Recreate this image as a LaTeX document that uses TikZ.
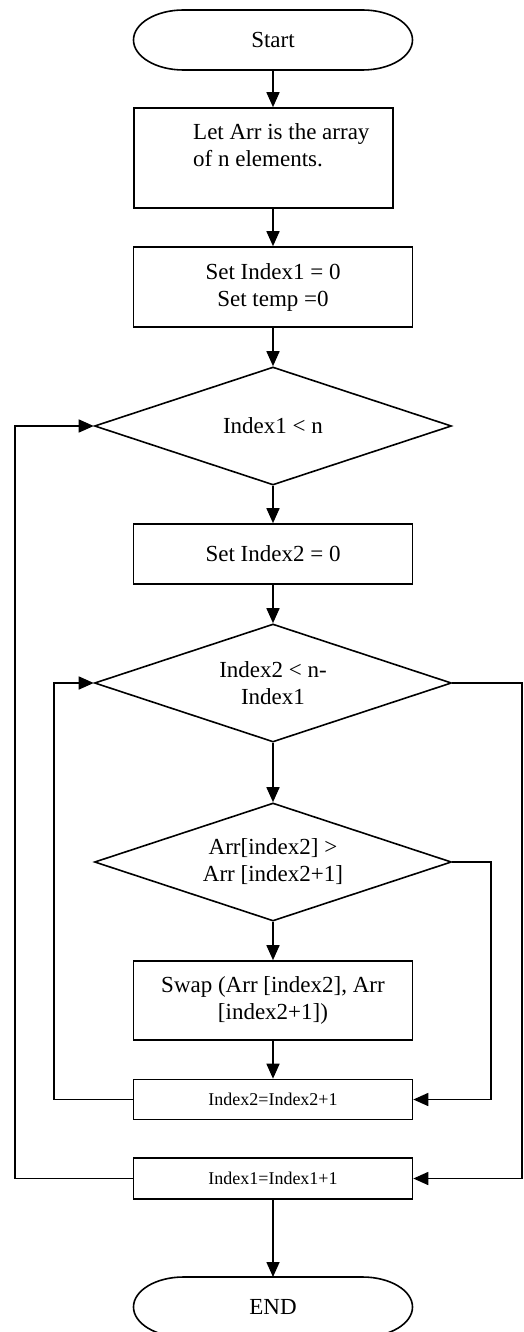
\documentclass[tikz,border=0pt]{standalone}
\usepackage{fontspec}
\setmainfont{Liberation Serif}
\usetikzlibrary{calc, arrows.meta, shapes.geometric}
\newcommand{\bigtxt}{\fontsize{23}{27}\selectfont}
\newcommand{\smalltxt}{\fontsize{18}{22}\selectfont}
\tikzset{
    procbox/.style={rectangle, draw, line width=1.6pt, minimum width=279pt, align=center, font=\bigtxt, inner sep=2pt},
    countbox/.style={rectangle, draw, line width=1.6pt, minimum width=279pt, minimum height=40pt, font=\smalltxt, inner sep=2pt},
    decision/.style={diamond, draw, line width=1.6pt, aspect=3, minimum width=357pt, minimum height=118pt, inner sep=0pt, align=center, font=\bigtxt},
    terminal/.style={rectangle, minimum width=279pt, minimum height=60pt, outer sep=0pt, font=\bigtxt},
    arrow/.style={-{Triangle[length=15pt, width=13pt]}, line width=1.6pt},
}
% outline of a start/end box with elliptic ends
\newcommand{\termoutline}[1]{
    \draw[line width=1.6pt] ($(#1.north west)+(50,0)$) -- ($(#1.north east)+(-50,0)$)
        arc[start angle=90, end angle=-90, x radius=50pt, y radius=30pt]
        -- ($(#1.south west)+(50,0)$)
        arc[start angle=270, end angle=90, x radius=50pt, y radius=30pt] -- cycle;
}
\begin{document}
\begin{tikzpicture}[x=1pt, y=1pt]
    \useasboundingbox (0,0) rectangle (523,-1332);

    % main column
    \node[terminal] (start) at (273,-40) {Start};
    \termoutline{start}
    \node[procbox, minimum width=259pt, minimum height=100pt] (arr) at (263.5,-158) {};
    \node[font=\bigtxt, align=left, anchor=north west, inner sep=0pt] (arrtxt) at (193,-123) {Let Arr is the array\\ of n elements.};
    \node[procbox, minimum height=80pt] (set1) at (273,-287) {Set Index1 = 0\\Set temp =0};
    \node[decision] (dec1) at (273,-426) {Index1 < n};
    \node[procbox, minimum height=60pt] (set2) at (273,-554) {Set Index2 = 0};
    \node[decision] (dec2) at (273,-683) {Index2 < n-\\Index1};
    \node[decision] (dec3) at (273,-862) {Arr[index2] >\\Arr [index2+1]};
    \node[procbox, minimum height=79pt] (swap) at (273,-1000.5) {Swap (Arr [index2], Arr\\{}[index2+1])};
    \node[countbox] (inc2) at (273,-1099.5) {Index2=Index2+1};
    \node[countbox, minimum height=41pt] (inc1) at (273,-1178.5) {Index1=Index1+1};
    \node[terminal] (end) at (273,-1307) {END};
    \termoutline{end}

    % loop lines
    \coordinate (outerleft) at (15,0);
    \coordinate (innerleft) at (54,0);
    \coordinate (skipright) at (491,0);
    \coordinate (exitright) at (522,0);

    \draw[arrow] (start.south) -- (start.south |- arr.north);
    \draw[arrow] (start.south |- arr.south) -- (set1.north);
    \draw[arrow] (set1.south) -- (dec1.north);
    \draw[arrow] (dec1.south) -- (set2.north);
    \draw[arrow] (set2.south) -- (dec2.north);
    \draw[arrow] (dec2.south) -- (dec3.north);
    \draw[arrow] (dec3.south) -- (swap.north);
    \draw[arrow] (swap.south) -- (inc2.north);
    \draw[arrow] (inc1.south) -- (end.north);

    \draw[arrow] (inc2.west) -- (inc2.west -| innerleft) |- (dec2.west);
    \draw[arrow] (inc1.west) -- (inc1.west -| outerleft) |- (dec1.west);
    \draw[arrow] (dec3.east) -- (dec3.east -| skipright) |- (inc2.east);
    \draw[arrow] (dec2.east) -- (dec2.east -| exitright) |- (inc1.east);
\end{tikzpicture}
\end{document}
